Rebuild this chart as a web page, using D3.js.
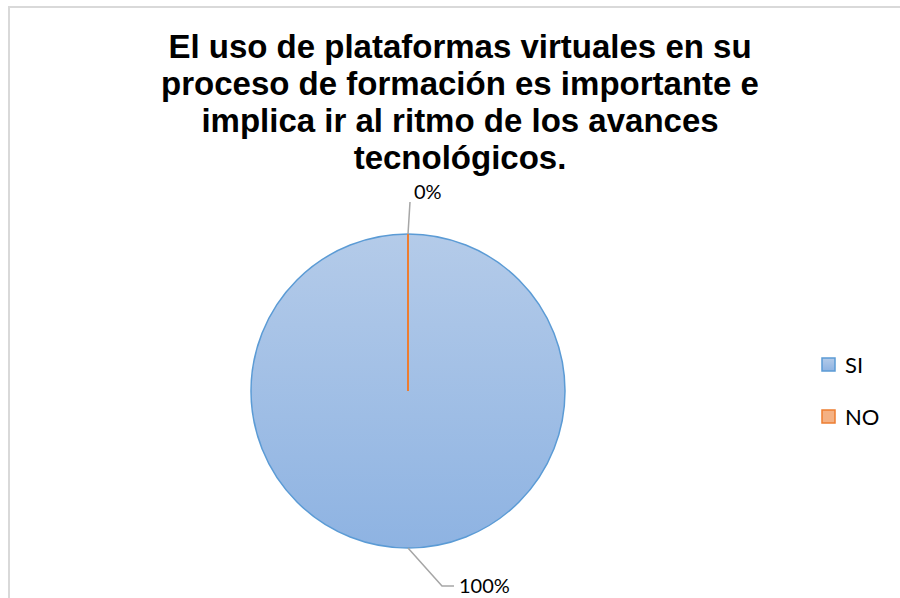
<!DOCTYPE html>
<html>
<head>
<meta charset="utf-8">
<script src="https://cdn.jsdelivr.net/npm/d3@7"></script>
<style>
  body { margin: 0; background: #fff; }
  svg { display: block; }
</style>
</head>
<body>
<div id="chart"></div>
<script>
var categories = ["SI", "NO"];
var values = [100, 0];
var labels = ["100%", "0%"];
var colors = ["#5b9bd5", "#ed7d31"];
var titleLines = [
  "El uso de plataformas virtuales en su",
  "proceso de formación es importante e",
  "implica ir al ritmo de los avances",
  "tecnológicos."
];

var width = 900, height = 598;
var cx = 408, cy = 391, radius = 157;

var svg = d3.select("#chart")
  .append("svg")
    .attr("width", width)
    .attr("height", height);

// chart area frame (only left and top edges visible in the crop)
svg.append("rect")
  .attr("x", 9).attr("y", 7)
  .attr("width", width + 20).attr("height", height + 20)
  .attr("fill", "#fff")
  .attr("stroke", "#d9d9d9")
  .attr("stroke-width", 2);

var defs = svg.append("defs");
var grad = defs.append("linearGradient")
  .attr("id", "siGrad")
  .attr("x1", 0).attr("y1", 0).attr("x2", 0).attr("y2", 1);
grad.append("stop").attr("offset", "0%").attr("stop-color", "#b4cbe9");
grad.append("stop").attr("offset", "100%").attr("stop-color", "#8eb3e2");

var fills = ["url(#siGrad)", "#f4b183"];

// title
svg.append("text")
  .attr("text-anchor", "middle")
  .attr("font-family", "Liberation Sans, Arial, sans-serif")
  .attr("font-weight", "bold")
  .attr("font-size", 33)
  .attr("fill", "#000")
  .selectAll("tspan")
  .data(titleLines)
  .enter()
  .append("tspan")
    .attr("x", 460)
    .attr("y", function(d, i) { return 58 + i * 37; })
    .text(function(d) { return d; });

var pie = d3.pie().sort(null).value(function(d) { return d; });
var arcs = pie(values);
var arc = d3.arc().innerRadius(0).outerRadius(radius);

var g = svg.append("g")
  .attr("transform", "translate(" + cx + "," + cy + ")");

g.selectAll("path.slice")
  .data(arcs)
  .enter()
  .append("path")
    .attr("class", "slice")
    .attr("d", arc)
    .attr("fill", function(d, i) { return fills[i]; })
    .attr("stroke", function(d, i) { return colors[i]; })
    .attr("stroke-width", function(d, i) { return i === 0 ? 1.5 : 2; });

// leader lines and data labels
var leaders = [
  {dx: 34, dy: 38, tail: 12},
  {dx: 2, dy: -32, tail: 0}
];

arcs.forEach(function(d, i) {
  var mid = (d.startAngle + d.endAngle) / 2;
  var px = Math.sin(mid) * radius, py = -Math.cos(mid) * radius;
  var L = leaders[i];
  var pts = [[px, py], [px + L.dx, py + L.dy], [px + L.dx + L.tail, py + L.dy]];
  g.append("path")
    .attr("d", d3.line()(pts))
    .attr("fill", "none")
    .attr("stroke", "#a6a6a6")
    .attr("stroke-width", 1.5);
  g.append("text")
    .attr("x", pts[2][0] + (L.tail ? 5 : 4))
    .attr("y", pts[2][1] + (L.tail ? 7 : -3))
    .attr("font-family", "Lato, 'Open Sans', sans-serif")
    .attr("font-size", 20)
    .attr("fill", "#000")
    .text(labels[i]);
});

// legend
var legend = svg.append("g")
  .selectAll("g")
  .data(categories)
  .enter()
  .append("g")
    .attr("transform", function(d, i) { return "translate(822," + (358 + i * 52) + ")"; });

legend.append("rect")
  .attr("width", 13).attr("height", 13)
  .attr("fill", function(d, i) { return fills[i]; })
  .attr("stroke", function(d, i) { return colors[i]; })
  .attr("stroke-width", 1.5);

legend.append("text")
  .attr("x", 23)
  .attr("y", 15)
  .attr("font-family", "Lato, 'Open Sans', sans-serif")
  .attr("font-size", 22)
  .attr("fill", "#000")
  .text(function(d) { return d; });
</script>
</body>
</html>
